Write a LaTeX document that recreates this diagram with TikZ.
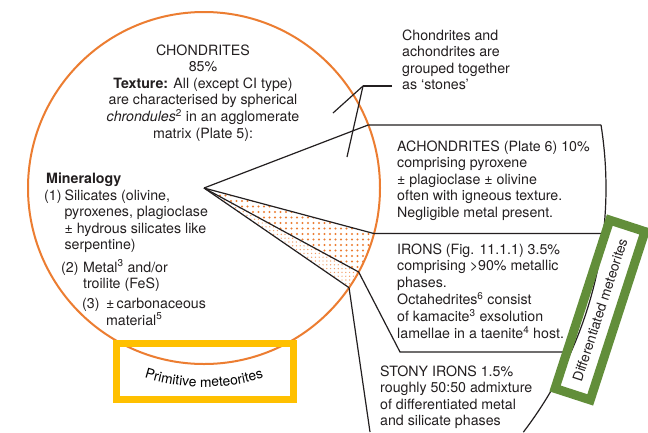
\documentclass[tikz,border=0pt]{standalone}
\usepackage{fontspec}
\setmainfont{TeX Gyre Heros}
\usetikzlibrary{patterns.meta,decorations.text}
\definecolor{ink}{RGB}{35,31,32}
\definecolor{chondorange}{RGB}{236,125,49}
\definecolor{primyellow}{RGB}{255,192,0}
\definecolor{diffgreen}{RGB}{98,142,58}
\newcommand\diagfont{\fontsize{14.2}{16.5}\selectfont}
\newcommand\boxfont{\fontsize{13.8}{16}\selectfont}
\tikzset{
  txt/.style={font=\diagfont, text=ink, inner sep=0pt, anchor=base west},
  edge/.style={draw=ink, line width=1.2pt},
}
\begin{document}
\begin{tikzpicture}[x=1pt, y=-1pt]
  \useasboundingbox (0,0) rectangle (648,432);
  \fill[white] (0,0) rectangle (648,432);
  \coordinate (O) at (204,188);
  \begin{scope}[shift={(O)}]
    \path
      (-21:176) coordinate (a)
      (15:176) coordinate (d)
      (28.5:176) coordinate (b)
      (34.5:176) coordinate (c)
      (-9.03:402) coordinate (aEnd)
      (6.51:402) coordinate (dEnd)
      (196,164) coordinate (bKnee)
      (24.08:402) coordinate (bEnd)
      (166,244) coordinate (cEnd);
    \fill[pattern={Dots[distance=5.5pt, radius=1.1pt]}, pattern color=chondorange]
      (0,0) -- (d) arc[start angle=15, end angle=28.5, radius=176] -- cycle;
    \fill[pattern={Dots[distance=3.8pt, radius=0.7pt]}, pattern color=chondorange!75]
      (0,0) -- (b) arc[start angle=28.5, end angle=34.5, radius=176] -- cycle;
  \end{scope}
  \draw[chondorange, line width=2pt] (O) circle[radius=176];
  \path
    (392,86) coordinate (stonesTip)
    (363,86) coordinate (fork)
    (333,113) coordinate (chondTip)
    (347,157) coordinate (achTip);
  \begin{scope}[edge]
    \draw (O) to (a);
    \draw (O) to (d);
    \draw (O) to (b);
    \draw (O) to (c);
    \draw (a) to (aEnd);
    \draw (aEnd) arc[start angle=-9.03, end angle=37.4, radius=402];
    \draw (d) to (dEnd);
    \draw (b) to (bKnee) to (bEnd);
    \draw (c) to (cEnd);
    \draw (stonesTip) to (fork);
    \draw (fork) to (chondTip);
    \draw (fork) to (achTip);
  \end{scope}
  \node[txt, anchor=base] (chond) at (203,55) {\begin{tabular}[t]{@{}c@{}}CHONDRITES\\85\%\\\textbf{Texture:} All (except CI type)\\are characterised by spherical\\\textit{chrondules}\textsuperscript{2} in an agglomerate\\matrix (Plate 5):\end{tabular}};
  \node[txt] (minhead) at (46,183) {\textbf{Mineralogy}};
  \node[txt] (min1) at (44,200) {\begin{tabular}[t]{@{}l@{\hspace{3pt}}l@{}}(1)&Silicates (olivine,\\&pyroxenes, plagioclase\\&± hydrous silicates like\\&serpentine)\end{tabular}};
  \node[txt] (min2) at (61,272) {\begin{tabular}[t]{@{}l@{\hspace{4.5pt}}l@{}}(2)&Metal\textsuperscript{3} and/or\\&troilite (FeS)\end{tabular}};
  \node[txt] (min3) at (82,308) {\begin{tabular}[t]{@{}l@{\hspace{6.5pt}}l@{}}(3)&±\,carbonaceous\\&material\textsuperscript{5}\end{tabular}};
  \node[txt] (stones) at (402,40) {\begin{tabular}[t]{@{}l@{}}Chondrites and\\achondrites are\\grouped together\\as ‘stones’\end{tabular}};
  \node[txt] (achond) at (397,151) {\begin{tabular}[t]{@{}l@{}}ACHONDRITES (Plate 6) 10\%\\comprising pyroxene\\± plagioclase ± olivine\\often with igneous texture.\\Negligible metal present.\end{tabular}};
  \node[txt] (irons) at (397,254) {\begin{tabular}[t]{@{}l@{}}IRONS (Fig. 11.1.1) 3.5\%\\comprising >90\% metallic\\phases.\\Octahedrites\textsuperscript{6} consist\\of kamacite\textsuperscript{3} exsolution\\lamellae in a taenite\textsuperscript{4} host.\end{tabular}};
  \node[txt] (stony) at (380,376) {\begin{tabular}[t]{@{}l@{}}STONY IRONS 1.5\%\\roughly 50:50 admixture\\of differentiated metal\\and silicate phases\end{tabular}};
  \node[draw=primyellow, line width=7pt, minimum width=177pt, minimum height=56pt] (primbox) at (205,371.5) {};
  \path[decorate, decoration={text along path, text align=center, text={|\boxfont|Primitive meteorites}}]
    (O) ++(112:199) arc[start angle=112, end angle=68, radius=199];
  \node[draw=diffgreen, line width=9pt, rotate=72, minimum width=177pt, minimum height=37pt, font=\boxfont, text=ink] (diffbox) at (600,310) {Differentiated meteorites};
\end{tikzpicture}
\end{document}
